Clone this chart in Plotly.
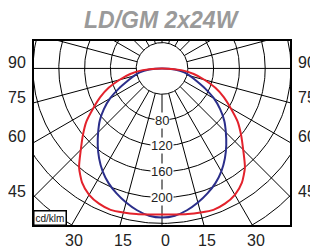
import numpy as np
import plotly.graph_objects as go

# ---- data (cd/klm) ----
gamma = [0, 5, 10, 15, 20, 25, 30, 35, 40, 45, 50, 55, 60, 65, 70, 75, 80, 85, 90]
c0_180 = [226, 227, 229, 231, 233, 231, 226, 216, 200, 178, 160, 143, 123, 106, 88, 68, 50, 30, 0]
c90_270 = [231, 229, 223, 215, 206, 196, 184, 170, 155, 140, 126, 110, 93, 74, 57, 45, 35, 20, 0]
grid_radii = [40, 80, 120, 160, 200, 240, 280, 320]
radial_labels = [80, 120, 160, 200]
side_angles = [90, 75, 60, 45]
bottom_angles = [-30, -15, 0, 15, 30]
title = "LD/GM 2x24W"
unit = "cd/klm"

RED = "#e3222c"
BLUE = "#2b2e8a"
XR = [-200, 200]
YR = [-244, 44]

def to_xy(angles_deg, r, side):
    a = np.radians(np.asarray(angles_deg, float))
    r = np.asarray(r, float)
    return side * r * np.sin(a), -r * np.cos(a)

fig = go.Figure()

# grid circles
t = np.linspace(0, 2 * np.pi, 361)
for R in grid_radii:
    fig.add_trace(go.Scatter(x=R * np.cos(t), y=R * np.sin(t), mode="lines",
                             line=dict(color="black", width=1), hoverinfo="skip", showlegend=False))
# radial lines every 15 degrees, from inner circle outwards
for ang in range(0, 360, 15):
    a = np.radians(ang)
    rr = np.array([grid_radii[0], 600])
    fig.add_trace(go.Scatter(x=rr * np.sin(a), y=-rr * np.cos(a), mode="lines",
                             line=dict(color="black", width=1), hoverinfo="skip", showlegend=False))

# curves: full closed loops, symmetric halves
for vals, col in [(c90_270, BLUE), (c0_180, RED)]:
    xl, yl = to_xy(gamma[::-1], vals[::-1], -1)
    xr, yr = to_xy(gamma[1:], vals[1:], 1)
    x = np.concatenate([xl, xr])
    y = np.concatenate([yl, yr])
    fig.add_trace(go.Scatter(x=x, y=y, mode="lines", line=dict(color=col, width=2, shape="spline", smoothing=0.6),
                             hoverinfo="skip", showlegend=False))

ann = []
for v in radial_labels:
    ann.append(dict(x=0, y=-v, xref="x", yref="y", text=str(v), showarrow=False,
                    font=dict(family="Liberation Sans, Arial", size=13, color="#222"),
                    bgcolor="white", borderpad=0, xanchor="center", yanchor="middle"))
for g in side_angles:
    yy = -XR[1] / np.tan(np.radians(g)) if g != 90 else 0.0
    for sx, anchor, shift in [(XR[0], "right", -5), (XR[1], "left", 5)]:
        ann.append(dict(x=sx, y=yy, xref="x", yref="y", text=str(g), showarrow=False,
                        font=dict(family="Liberation Sans, Arial", size=16, color="#222"),
                        xanchor=anchor, yanchor="middle", xshift=shift, yshift=6))
for g in bottom_angles:
    xx = -YR[0] * np.tan(np.radians(g))
    ann.append(dict(x=xx, y=YR[0], xref="x", yref="y", text=str(abs(g)), showarrow=False,
                    font=dict(family="Liberation Sans, Arial", size=16, color="#222"),
                    xanchor="center", yanchor="middle", xshift=3, yshift=-14))
ann.append(dict(x=0, y=0, xref="paper", yref="paper", text=unit, showarrow=False,
                font=dict(family="Liberation Sans, Arial", size=10, color="#111"),
                xanchor="left", yanchor="bottom", bgcolor="white", bordercolor="black",
                borderwidth=1.5, borderpad=1))
ann.append(dict(x=0.5, y=1, xref="paper", yref="paper", text="<b><i>" + title + "</i></b>", showarrow=False,
                font=dict(family="Liberation Sans, Arial", size=23, color="#9a9a9a"),
                xanchor="center", yanchor="middle", yshift=20))

# the page body adds an 8px offset; the figure is sized to fit the window with it
fig.update_layout(
    width=310, height=240, autosize=False,
    margin=dict(l=25, r=27, t=32, b=22),
    paper_bgcolor="white", plot_bgcolor="white",
    xaxis=dict(range=XR, visible=False, fixedrange=True),
    yaxis=dict(range=YR, visible=False, fixedrange=True),
    annotations=ann,
    shapes=[dict(type="rect", xref="paper", yref="paper", x0=0, y0=0, x1=1, y1=1,
                 line=dict(color="black", width=2), layer="above")],
)
fig.write_html("out.html", config={"displayModeBar": False})
